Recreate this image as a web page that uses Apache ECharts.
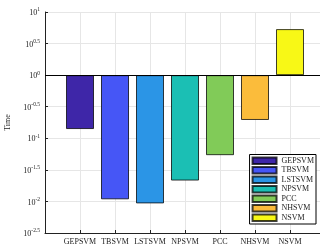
<!DOCTYPE html>
<html>
<head>
<meta charset="utf-8">
<script src="https://cdn.jsdelivr.net/npm/echarts@6/dist/echarts.min.js"></script>
<style>
  html, body { margin: 0; padding: 0; background: #fff; }
  #chart { width: 320px; height: 248px; }
</style>
</head>
<body>
<div id="chart"></div>
<script>
var methods = ["GEPSVM", "TBSVM", "LSTSVM", "NPSVM", "PCC", "NHSVM", "NSVM"];
var times = [0.14, 0.0108, 0.0093, 0.0214, 0.054, 0.195, 5.36];
var colors = ["#3e26a8", "#4656f6", "#2b95e6", "#1bbfb4", "#81cb58", "#fbbc3b", "#f8f816"];
// exponents shown on the y axis (10^x)
var yExpMin = -2.5, yExpMax = 1, yExpStep = 0.5;

var font = "Liberation Serif";
var chart = echarts.init(document.getElementById("chart"));

var series = methods.map(function (m, i) {
  return {
    name: m,
    type: "bar",
    barWidth: 28,
    barGap: "-100%",
    data: [[i + 1, Math.log10(times[i])]],
    itemStyle: {
      color: colors[i],
      borderColor: "rgba(0,0,0,0.75)",
      borderWidth: 1
    },
    markLine: i === 0 ? {
      silent: true,
      symbol: "none",
      label: { show: false },
      lineStyle: { color: "#000", width: 1, type: "solid" },
      data: [{ yAxis: 0 }],
      z: 10
    } : undefined
  };
});

chart.setOption({
  animation: false,
  textStyle: { fontFamily: font },
  grid: { left: 45, top: 12, width: 280, height: 221, outerBoundsMode: "none" },
  legend: {
    orient: "vertical",
    right: 4,
    bottom: 24,
    data: methods,
    icon: "rect",
    itemWidth: 24,
    itemHeight: 6.5,
    itemGap: 0,
    padding: [1.5, 2, 1.5, 2],
    borderColor: "#000",
    borderWidth: 1,
    backgroundColor: "#fff",
    textStyle: { fontFamily: font, fontSize: 8, lineHeight: 9.5, color: "#222" }
  },
  xAxis: {
    type: "value",
    min: 0,
    max: 8,
    interval: 1,
    axisLine: { show: true, onZero: false, lineStyle: { color: "#222", width: 1 } },
    axisTick: { show: true, inside: true, length: 3, lineStyle: { color: "#222" } },
    splitLine: { show: true, lineStyle: { color: "#e6e6e6", width: 1 } },
    axisLabel: {
      fontFamily: font, fontSize: 8, color: "#222", margin: 5,
      formatter: function (v) { return methods[v - 1] || ""; }
    }
  },
  yAxis: {
    type: "value",
    min: yExpMin,
    max: yExpMax,
    interval: yExpStep,
    name: "Time",
    nameLocation: "middle",
    nameGap: 28,
    nameTextStyle: { fontFamily: font, fontSize: 8, color: "#222" },
    axisLine: { show: true, onZero: false, lineStyle: { color: "#222", width: 1 } },
    axisTick: { show: true, inside: true, length: 3, lineStyle: { color: "#222" } },
    splitLine: { show: true, lineStyle: { color: "#e6e6e6", width: 1 } },
    axisLabel: {
      margin: 5,
      formatter: function (v) {
        var s = Math.round(v * 10) / 10;
        return "{b|10}{s|" + s + "}";
      },
      rich: {
        b: { fontFamily: font, fontSize: 8, color: "#222", lineHeight: 10, verticalAlign: "bottom" },
        s: { fontFamily: font, fontSize: 5.5, color: "#222", lineHeight: 4, verticalAlign: "top" }
      }
    }
  },
  series: series
});
</script>
</body>
</html>
